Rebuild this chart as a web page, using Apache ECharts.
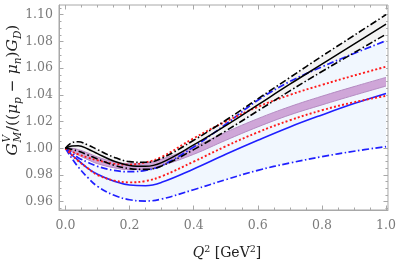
<!DOCTYPE html>
<html><head><meta charset="utf-8">
<script src="https://cdn.jsdelivr.net/npm/echarts@6/dist/echarts.min.js"></script>
<style>html,body{margin:0;padding:0;background:#fff}#c{width:399px;height:265px}</style>
</head><body><div id="c"></div>
<script>
// ---- data ----
const q2 =          [0,     0.02,   0.04,   0.07,   0.1,    0.15,   0.2,    0.25,   0.3,    0.4,    0.5,    0.6,    0.7,    0.8,    0.9,    1.0];
const blackUpper =  [1.000, 1.0042, 1.0049, 1.0025, 0.9990, 0.9935, 0.9900, 0.9895, 0.9925, 1.0060, 1.0210, 1.0370, 1.0530, 1.0690, 1.0845, 1.1001];
const blackMid =    [1.000, 1.0018, 1.0020, 0.9995, 0.9960, 0.9905, 0.9872, 0.9865, 0.9893, 1.0025, 1.0170, 1.0325, 1.0480, 1.0630, 1.0780, 1.0929];
const blackLower =  [1.000, 0.9992, 0.9978, 0.9950, 0.9920, 0.9875, 0.9848, 0.9842, 0.9868, 0.9990, 1.0130, 1.0280, 1.0430, 1.0575, 1.0715, 1.0854];
const blueUpper =   [1.000, 0.9965, 0.9930, 0.9895, 0.9865, 0.9835, 0.9825, 0.9835, 0.9870, 1.0010, 1.0180, 1.0360, 1.0500, 1.0610, 1.0710, 1.0806];
const blueMid =     [1.000, 0.9950, 0.9910, 0.9850, 0.9805, 0.9755, 0.9725, 0.9720, 0.9745, 0.9845, 0.9955, 1.0060, 1.0160, 1.0250, 1.0335, 1.0411];
const blueLower =   [1.000, 0.9925, 0.9860, 0.9780, 0.9715, 0.9650, 0.9615, 0.9605, 0.9620, 0.9690, 0.9765, 0.9835, 0.9890, 0.9937, 0.9978, 1.0012];
const redUpper =    [1.000, 0.9975, 0.9955, 0.9930, 0.9910, 0.9885, 0.9878, 0.9895, 0.9935, 1.0075, 1.0200, 1.0310, 1.0400, 1.0475, 1.0545, 1.0611];
const redLower =    [1.000, 0.9950, 0.9905, 0.9850, 0.9800, 0.9760, 0.9745, 0.9755, 0.9790, 0.9900, 1.0015, 1.0120, 1.0210, 1.0285, 1.0345, 1.0393];
const bandLower =   [1.000, 0.9975, 0.9950, 0.9915, 0.9885, 0.9855, 0.9840, 0.9845, 0.9870, 0.9955, 1.0060, 1.0160, 1.0250, 1.0325, 1.0397, 1.0466];
const bandUpper =   [1.000, 1.0000, 0.9990, 0.9965, 0.9935, 0.9900, 0.9885, 0.9890, 0.9918, 1.0010, 1.0120, 1.0222, 1.0312, 1.0390, 1.0462, 1.0531];

const xMajorTicks = [0, 0.2, 0.4, 0.6, 0.8, 1.0];
const xMinorTicks = [0.05, 0.1, 0.15, 0.25, 0.3, 0.35, 0.45, 0.5, 0.55, 0.65, 0.7, 0.75, 0.85, 0.9, 0.95];
const yMajorTicks = [0.96, 0.98, 1.00, 1.02, 1.04, 1.06, 1.08, 1.10];
const yMinorTicks = [0.955, 0.965, 0.97, 0.975, 0.985, 0.99, 0.995, 1.005, 1.01, 1.015, 1.025, 1.03, 1.035, 1.045, 1.05, 1.055, 1.065, 1.07, 1.075, 1.085, 1.09, 1.095, 1.105];

// ---- styling ----
const FRAME = '#a8a8a8';
const LABEL = '#7a7a7a';
const SERIF = '"DejaVu Serif", serif';
const XMIN = -0.02, XMAX = 1.006, YMIN = 0.9538, YMAX = 1.1073;

const pairs = arr => q2.map((x, i) => [x, arr[i]]);
// for stacked bands: value first (dimension 0 = y) so that stacking happens along y
const yxPairs = arr => q2.map((x, i) => [arr[i], x]);
const yxDiff = (a, b) => q2.map((x, i) => [a[i] - b[i], x]);

function xAx(pos, ticks, len, labels) {
  return {
    type: 'value', min: XMIN, max: XMAX, position: pos, offset: 0,
    axisLine: { show: labels, onZero: false, lineStyle: { color: FRAME, width: 1 } },
    splitLine: { show: false },
    axisTick: { show: true, inside: true, length: len, customValues: ticks, lineStyle: { color: FRAME, width: 1 } },
    axisLabel: labels ? { show: true, customValues: ticks, formatter: v => v.toFixed(1), color: LABEL, fontFamily: SERIF, fontSize: 12.5, margin: 9 } : { show: false }
  };
}
function yAx(pos, ticks, len, labels) {
  return {
    type: 'value', min: YMIN, max: YMAX, position: pos, offset: 0,
    axisLine: { show: labels, onZero: false, lineStyle: { color: FRAME, width: 1 } },
    splitLine: { show: false },
    axisTick: { show: true, inside: true, length: len, customValues: ticks, lineStyle: { color: FRAME, width: 1 } },
    axisLabel: labels ? { show: true, customValues: ticks, formatter: v => v.toFixed(2), color: LABEL, fontFamily: SERIF, fontSize: 12.5, margin: 6, padding: [6, 0, 0, 0] } : { show: false }
  };
}

const DASHDOT = [7, 2.5, 1.5, 2.5];
const DOT = [2, 2.2];
function line(data, color, type, width, z) {
  return { type: 'line', data: pairs(data), smooth: 0.4, symbol: 'none', silent: true, z: z,
    lineStyle: { color: color, width: width, type: type, cap: 'butt' } };
}
function bandBase(data, stack, z) {
  return { type: 'line', data: yxPairs(data), encode: { x: 1, y: 0 }, stack: stack, smooth: 0.4, symbol: 'none', silent: true, z: z, lineStyle: { opacity: 0, width: 0 } };
}
function bandTop(up, lo, stack, color, z) {
  return { type: 'line', data: yxDiff(up, lo), encode: { x: 1, y: 0 }, stack: stack, smooth: 0.4, symbol: 'none', silent: true, z: z,
    lineStyle: { opacity: 0, width: 0 }, areaStyle: { color: color, opacity: 1 } };
}

// y-axis title built from measured pieces
const mctx = document.createElement('canvas').getContext('2d');
function tw(t, size, it) { mctx.font = (it ? 'italic ' : '') + size + 'px "DejaVu Serif"'; return mctx.measureText(t).width; }
const FS = 15.5, SS = 10.5;
const pieces = [
  { t: 'G', it: true }, { stack: ['V', 'M'] }, { t: '/((' }, { t: 'μ', it: true }, { t: 'p', it: true, sub: true },
  { t: ' − ' }, { t: 'μ', it: true }, { t: 'n', it: true, sub: true }, { t: ')' }, { t: 'G', it: true }, { t: 'D', it: true, sub: true }, { t: ')' }
];
const kids = []; let cx = 0;
const TITLE = '#222';
function mk(t, x, y, size, it) {
  return { type: 'text', x: x, y: y, style: { text: t, font: (it ? 'italic ' : '') + size + 'px "DejaVu Serif"', fill: TITLE, align: 'left', verticalAlign: 'middle' } };
}
pieces.forEach(p => {
  if (p.stack) {
    kids.push(mk(p.stack[0], cx + 0.5, -5.5, SS, true));
    kids.push(mk(p.stack[1], cx + 0.5, 5, SS, true));
    cx += Math.max(tw(p.stack[0], SS, true), tw(p.stack[1], SS, true)) + 1;
  } else if (p.sub) {
    kids.push(mk(p.t, cx, 5, SS, p.it)); cx += tw(p.t, SS, p.it);
  } else {
    kids.push(mk(p.t, cx, 0, FS, p.it)); cx += tw(p.t, FS, p.it);
  }
});
kids.forEach(k => { k.x -= cx / 2; });

const chart = echarts.init(document.getElementById('c'), null, { renderer: 'canvas' });
chart.setOption({
  animation: false,
  backgroundColor: '#fff',
  grid: { left: 59, right: 10, top: 5, bottom: 55, containLabel: false, show: true, borderColor: FRAME, borderWidth: 1, backgroundColor: 'transparent' },
  xAxis: [xAx('bottom', xMajorTicks, 4.5, true), xAx('bottom', xMinorTicks, 2.5, false), xAx('top', xMajorTicks, 4.5, false), xAx('top', xMinorTicks, 2.5, false)],
  yAxis: [yAx('left', yMajorTicks, 4.5, true), yAx('left', yMinorTicks, 2.5, false), yAx('right', yMajorTicks, 4.5, false), yAx('right', yMinorTicks, 2.5, false)],
  series: [
    bandBase(blueLower, 'blue', 1), bandTop(blueUpper, blueLower, 'blue', '#f1f7fe', 1),
    bandBase(blackLower, 'gray', 2), bandTop(blackUpper, blackLower, 'gray', '#f3f3f3', 2),
    bandBase(bandLower, 'purple', 3), bandTop(bandUpper, bandLower, 'purple', '#cfa6d8', 3),
    line(bandLower, '#b48ac2', 'solid', 1, 4), line(bandUpper, '#b48ac2', 'solid', 1, 4),
    line(blueLower, '#1f1fff', DASHDOT, 1.7, 5), line(blueUpper, '#1f1fff', DASHDOT, 1.7, 5), line(blueMid, '#1f1fff', 'solid', 1.6, 5),
    line(redLower, '#ff1a1a', DOT, 1.9, 6), line(redUpper, '#ff1a1a', DOT, 1.9, 6),
    line(blackLower, '#000', DASHDOT, 1.6, 7), line(blackUpper, '#000', DASHDOT, 1.6, 7), line(blackMid, '#000', 'solid', 1.5, 7)
  ],
  graphic: [
    { type: 'group', x: 13, y: 90, rotation: Math.PI / 2, children: kids },
    { type: 'text', x: 227, y: 253, style: {
        text: '{q|Q}{s|2}{n| [GeV}{s|2}{n|]}', align: 'center', verticalAlign: 'middle',
        rich: { q: { fontFamily: SERIF, fontStyle: 'italic', fontSize: 14, fill: TITLE, lineHeight: 16 },
                n: { fontFamily: SERIF, fontSize: 14, fill: TITLE, lineHeight: 16 },
                s: { fontFamily: SERIF, fontSize: 9.5, fill: TITLE, verticalAlign: 'top', lineHeight: 16 } } } }
  ]
});
</script></body></html>
